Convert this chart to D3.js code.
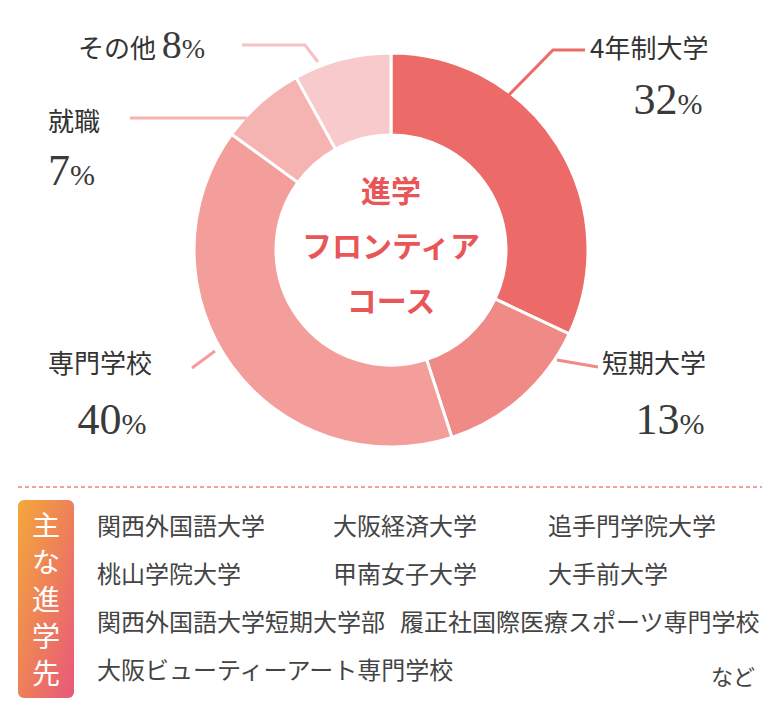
<!DOCTYPE html>
<html><head><meta charset="utf-8">
<script src="https://cdn.jsdelivr.net/npm/d3@7"></script>
<style>body{margin:0;background:#fff}svg{display:block}</style>
</head><body><div id="chart"></div>
<script>
const categories = ["4年制大学", "短期大学", "専門学校", "就職", "その他"];
const values = [32, 13, 40, 7, 8];
const colors = ["#ec6b69", "#f08a86", "#f39e9b", "#f5b3b1", "#f8cacb"];
const destRows = [
  ["関西外国語大学", "大阪経済大学", "追手門学院大学"],
  ["桃山学院大学", "甲南女子大学", "大手前大学"],
  ["関西外国語大学短期大学部", "履正社国際医療スポーツ専門学校"],
  ["大阪ビューティーアート専門学校"]
];

const W = 780, H = 720;
const cx = 391, cy = 250, R = 197, r = 115;
const jp = "'Noto Sans CJK JP', sans-serif";
const serif = "'Liberation Serif', 'DejaVu Serif', serif";

const svg = d3.select("#chart").append("svg").attr("width", W).attr("height", H);
const g = svg.append("g").attr("transform", `translate(${cx},${cy})`);

const pie = d3.pie().sort(null).value(d => d);
const arc = d3.arc().innerRadius(r).outerRadius(R);
const arcs = pie(values);

g.selectAll("path").data(arcs).join("path")
  .attr("d", arc)
  .attr("fill", (d, i) => colors[i])
  .attr("stroke", "#fff").attr("stroke-width", 3);

// center label
["進学", "フロンティア", "コース"].forEach((t, i) => {
  g.append("text").attr("x", 0).attr("y", -48 + i * 55)
    .attr("text-anchor", "middle").attr("font-family", jp)
    .attr("font-size", 30).attr("font-weight", "bold").attr("fill", "#e85658")
    .text(t);
});

// leader lines and labels (absolute coords)
const labels = [
  { pts: [[508, 96], [553, 50], [585, 50]], name: [590, 58, "start"], pct: [668, 114, "middle"] },
  { pts: [[557, 360], [598, 367]], name: [602, 373, "start"], pct: [670, 434, "middle"] },
  { pts: [[192, 368], [215, 351]], name: [48, 373, "start"], pct: [112, 434, "middle"] },
  { pts: [[130, 118], [247, 118]], name: [48, 131, "start"], pct: [48, 185, "start"] },
  { pts: [[242, 45], [305, 45], [318, 62]], name: [78, 58, "start"], pct: null }
];
labels.forEach((l, i) => {
  svg.append("path").attr("d", d3.line()(l.pts)).attr("fill", "none")
    .attr("stroke", colors[i] === "#f8cacb" ? "#f6c2c3" : colors[i]).attr("stroke-width", 3);
  if (l.pct) {
    svg.append("text").attr("x", l.name[0]).attr("y", l.name[1]).attr("text-anchor", l.name[2])
      .attr("font-family", jp).attr("font-size", 26).attr("fill", "#333").text(categories[i]);
    const t = svg.append("text").attr("x", l.pct[0]).attr("y", l.pct[1]).attr("text-anchor", l.pct[2])
      .attr("font-family", serif).attr("fill", "#3a3a3a");
    t.append("tspan").attr("font-size", 44).text(values[i]);
    t.append("tspan").attr("font-size", 30).text("%");
  } else {
    const t = svg.append("text").attr("x", 78).attr("y", 58).attr("font-family", jp).attr("fill", "#333");
    t.append("tspan").attr("font-size", 26).text(categories[i] + " ");
    t.append("tspan").attr("font-family", serif).attr("font-size", 40).attr("fill", "#3a3a3a").text(values[i]);
    t.append("tspan").attr("font-family", serif).attr("font-size", 28).attr("fill", "#3a3a3a").text("%");
  }
});

// bottom section
svg.append("line").attr("x1", 18).attr("x2", 762).attr("y1", 487).attr("y2", 487)
  .attr("stroke", "#f08080").attr("stroke-width", 1.5).attr("stroke-dasharray", "4,3");

const grad = svg.append("defs").append("linearGradient").attr("id", "bg")
  .attr("x1", "0").attr("y1", "0").attr("x2", "1").attr("y2", "1");
grad.append("stop").attr("offset", "0%").attr("stop-color", "#f4a83a");
grad.append("stop").attr("offset", "100%").attr("stop-color", "#e8587a");
svg.append("rect").attr("x", 18).attr("y", 500).attr("width", 56).attr("height", 198)
  .attr("rx", 6).attr("fill", "url(#bg)");
"主な進学先".split("").forEach((c, i) => {
  svg.append("text").attr("x", 46).attr("y", 536 + i * 37).attr("text-anchor", "middle")
    .attr("font-family", jp).attr("font-size", 28).attr("fill", "#fff").text(c);
});

const colX = [97, 333, 548];
destRows.forEach((row, ri) => {
  row.forEach((t, ci) => {
    const x = ri === 2 && ci === 1 ? 400 : colX[ci];
    svg.append("text").attr("x", x).attr("y", 535 + ri * 48)
      .attr("font-family", jp).attr("font-size", 24).attr("fill", "#444").text(t);
  });
});
svg.append("text").attr("x", 755).attr("y", 685).attr("text-anchor", "end")
  .attr("font-family", jp).attr("font-size", 22).attr("fill", "#444").text("など");
</script>
</body></html>
